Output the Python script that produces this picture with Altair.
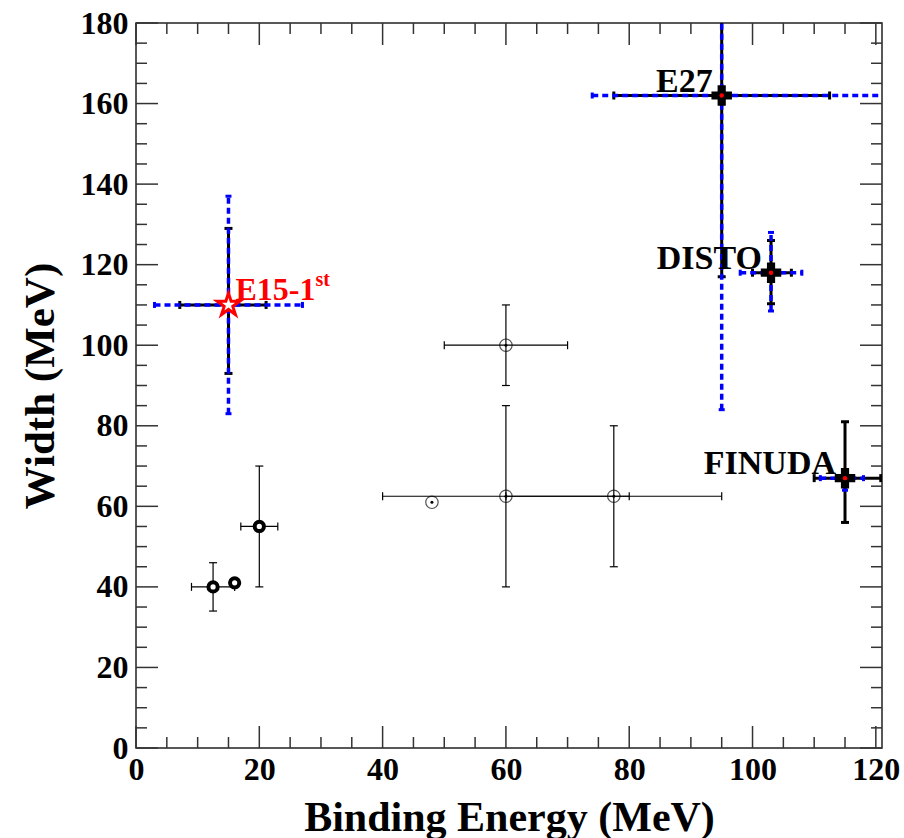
import altair as alt
import pandas as pd

# ---------------- data ----------------
# labelled measurements
exp_names  = ["E15-1", "E27", "DISTO", "FINUDA"]
exp_sup    = ["st", "", "", ""]
exp_be     = [15.0, 95.0, 103.0, 115.0]
exp_width  = [110.0, 162.0, 118.0, 67.0]
stat_be_lo = [7.1, 77.5, 100.0, 110.0]
stat_be_hi = [21.1, 112.5, 106.3, 120.8]
stat_w_lo  = [93.0, 117.0, 110.3, 56.0]
stat_w_hi  = [129.0, 207.0, 126.0, 81.0]
sys_be_lo  = [3.0, 74.0, 98.0, 111.0]
sys_be_hi  = [27.0, 130.0, 108.0, 118.0]
sys_w_lo   = [83.0, 84.0, 108.5, 64.0]
sys_w_hi   = [137.0, 240.0, 128.0, 69.0]

# thick open circles
tc_be    = [12.5, 16.0, 20.0]
tc_w     = [40.0, 41.0, 55.0]
tc_be_lo = [9.0, None, 17.0]
tc_be_hi = [16.0, None, 23.0]
tc_w_lo  = [34.0, None, 40.0]
tc_w_hi  = [46.0, None, 70.0]

# thin circles with dot
dc_be    = [60.0, 48.0, 60.0, 77.5]
dc_w     = [100.0, 61.0, 62.5, 62.5]
dc_be_lo = [50.0, None, 40.0, 60.0]
dc_be_hi = [70.0, None, 80.0, 95.0]
dc_w_lo  = [90.0, None, 40.0, 45.0]
dc_w_hi  = [110.0, None, 85.0, 80.0]

# axis ticks
x_major = [0, 20, 40, 60, 80, 100, 120]
x_minor = [5, 10, 15, 25, 30, 35, 45, 50, 55, 65, 70, 75, 85, 90, 95, 105, 110, 115]
y_major = [0, 20, 40, 60, 80, 100, 120, 140, 160, 180]
y_minor = [5, 10, 15, 25, 30, 35, 45, 50, 55, 65, 70, 75, 85, 90, 95, 105, 110, 115,
           125, 130, 135, 145, 150, 155, 165, 170, 175]

x_title = "Binding Energy (MeV)"
y_title = "Width (MeV)"

# ---------------- tables ----------------
exp = pd.DataFrame({"name": exp_names, "sup": exp_sup, "be": exp_be, "w": exp_width,
                    "sbl": stat_be_lo, "sbh": stat_be_hi, "swl": stat_w_lo, "swh": stat_w_hi,
                    "ybl": sys_be_lo, "ybh": sys_be_hi, "ywl": sys_w_lo, "ywh": sys_w_hi})
tc = pd.DataFrame({"be": tc_be, "w": tc_w, "bl": tc_be_lo, "bh": tc_be_hi,
                   "wl": tc_w_lo, "wh": tc_w_hi})
dc = pd.DataFrame({"be": dc_be, "w": dc_w, "bl": dc_be_lo, "bh": dc_be_hi,
                   "wl": dc_w_lo, "wh": dc_w_hi})

W, H = 746, 725
FONT = "Liberation Serif"
xs = alt.Scale(domain=[0, 121], nice=False, zero=False)
ys = alt.Scale(domain=[0, 180], nice=False, zero=False)

STAR = ("M0,-1L0.225,-0.309L0.951,-0.309L0.363,0.118L0.588,0.809L0,0.382"
        "L-0.588,0.809L-0.363,0.118L-0.951,-0.309L-0.225,-0.309Z")

AX_X = alt.Axis(values=x_major, grid=False, domain=False, ticks=False, tickSize=0,
                labelFont=FONT, labelFontWeight="bold", labelFontSize=32,
                labelColor="black", labelPadding=6, labelFlush=False,
                labelOverlap=False, format="d",
                titleFont=FONT, titleFontWeight="bold", titleFontSize=42,
                titleColor="black", titleY=82, titleBaseline="alphabetic")
AX_Y = alt.Axis(values=y_major, grid=False, domain=False, ticks=False, tickSize=0,
                labelFont=FONT, labelFontWeight="bold", labelFontSize=32,
                labelColor="black", labelPadding=8, labelFlush=False,
                labelOverlap=False, format="d",
                titleFont=FONT, titleFontWeight="bold", titleFontSize=43,
                titleColor="black", titleX=-83, titleY=H / 2, titleAngle=270,
                titleAlign="center", titleBaseline="alphabetic")


def X(f):
    return alt.X(f + ":Q", scale=xs, title=x_title, axis=AX_X)


def Y(f):
    return alt.Y(f + ":Q", scale=ys, title=y_title, axis=AX_Y)


def errbars(df, bl, bh, wl, wh, color, sw, cap, capw, dash=None):
    layers = []
    base = alt.Chart(df)
    mk = dict(color=color, strokeWidth=sw, clip=True)
    if dash:
        mk["strokeDash"] = dash
    hb = base.transform_filter(f"isValid(datum.{bl})")
    vb = base.transform_filter(f"isValid(datum.{wl})")
    layers.append(hb.mark_rule(**mk).encode(x=X(bl), x2=bh, y=Y("w")))
    layers.append(vb.mark_rule(**mk).encode(y=Y(wl), y2=wh, x=X("be")))
    for f in (bl, bh):
        layers.append(hb.mark_tick(orient="vertical", size=cap, thickness=capw,
                                   color=color, clip=True, opacity=1)
                      .encode(x=X(f), y=Y("w")))
    for f in (wl, wh):
        layers.append(vb.mark_tick(orient="horizontal", size=cap, thickness=capw,
                                   color=color, clip=True, opacity=1)
                      .encode(y=Y(f), x=X("be")))
    return layers


TICKC = "#333333"
frame = []
for vals, ln in ((x_major, 22), (x_minor, 11)):
    d = pd.DataFrame({"v": vals})
    frame.append(alt.Chart(d).mark_rule(color=TICKC, strokeWidth=1.5)
                 .encode(x=X("v"), y=alt.value(H), y2=alt.value(H - ln)))
    frame.append(alt.Chart(d).mark_rule(color=TICKC, strokeWidth=1.5)
                 .encode(x=X("v"), y=alt.value(0), y2=alt.value(ln)))
for vals, ln in ((y_major, 22), (y_minor, 11)):
    d = pd.DataFrame({"v": vals})
    frame.append(alt.Chart(d).mark_rule(color=TICKC, strokeWidth=1.5)
                 .encode(y=Y("v"), x=alt.value(0), x2=alt.value(ln)))
    frame.append(alt.Chart(d).mark_rule(color=TICKC, strokeWidth=1.5)
                 .encode(y=Y("v"), x=alt.value(W), x2=alt.value(W - ln)))

circles = alt.Chart(dc).mark_point(shape="circle", size=154, filled=False,
                                   color="#555555", strokeWidth=1.2, opacity=1).encode(
    x=X("be"), y=Y("w"))
dots = alt.Chart(dc).mark_point(shape="circle", size=9, filled=True, color="black",
                                opacity=1).encode(x=X("be"), y=Y("w"))

thin_err = errbars(dc, "bl", "bh", "wl", "wh", "black", 1.2, 8, 1.2)
thick_err = errbars(tc, "bl", "bh", "wl", "wh", "black", 1.2, 8, 1.2)
thick_pts = alt.Chart(tc).mark_point(shape="circle", size=85, filled=True, fill="white",
                                     stroke="black", strokeWidth=4, opacity=1).encode(
    x=X("be"), y=Y("w"))

stat = errbars(exp, "sbl", "sbh", "swl", "swh", "black", 3, 8, 3)
sysb = errbars(exp, "ybl", "ybh", "ywl", "ywh", "#0000ff", 3.5, 6, 3, dash=[6, 4])

e15 = exp[exp["name"] == "E15-1"]
oth = exp[exp["name"] != "E15-1"]

crosses = alt.Chart(oth).mark_point(shape="cross", size=420, filled=True, color="black",
                                    opacity=1).encode(x=X("be"), y=Y("w"))
reddots = alt.Chart(oth).mark_point(shape="circle", size=20, filled=True, color="red",
                                    opacity=1).encode(x=X("be"), y=Y("w"))
star = alt.Chart(e15).mark_point(shape=STAR, size=560, filled=True, fill="white",
                                 stroke="red", strokeWidth=3, opacity=1).encode(
    x=X("be"), y=Y("w"))

lab_e15 = alt.Chart(e15).mark_text(align="left", baseline="alphabetic", dx=7, dy=-5,
                                   font=FONT, fontWeight="bold", fontSize=32,
                                   color="red").encode(x=X("be"), y=Y("w"), text="name:N")
sup_e15 = alt.Chart(e15).mark_text(align="left", baseline="alphabetic", dx=87, dy=-19,
                                   font=FONT, fontWeight="bold", fontSize=20,
                                   color="red").encode(x=X("be"), y=Y("w"), text="sup:N")
lab_oth = alt.Chart(oth).mark_text(align="right", baseline="alphabetic", dx=-9, dy=-4,
                                   font=FONT, fontWeight="bold", fontSize=34,
                                   color="black").encode(x=X("be"), y=Y("w"), text="name:N")

layers = ([circles, dots] + frame + thin_err + thick_err + [thick_pts] + stat + sysb
          + [crosses, reddots, star, lab_e15, sup_e15, lab_oth])

chart = alt.layer(*layers).properties(
    width=W, height=H,
    autosize=alt.AutoSizeParams(type="none"),
    padding={"left": 136, "top": 23, "right": 22, "bottom": 90},
    background="white",
).configure_view(stroke="#222222", strokeWidth=1.5)

chart.save("out.html", embed_options={"renderer": "svg", "actions": False})
